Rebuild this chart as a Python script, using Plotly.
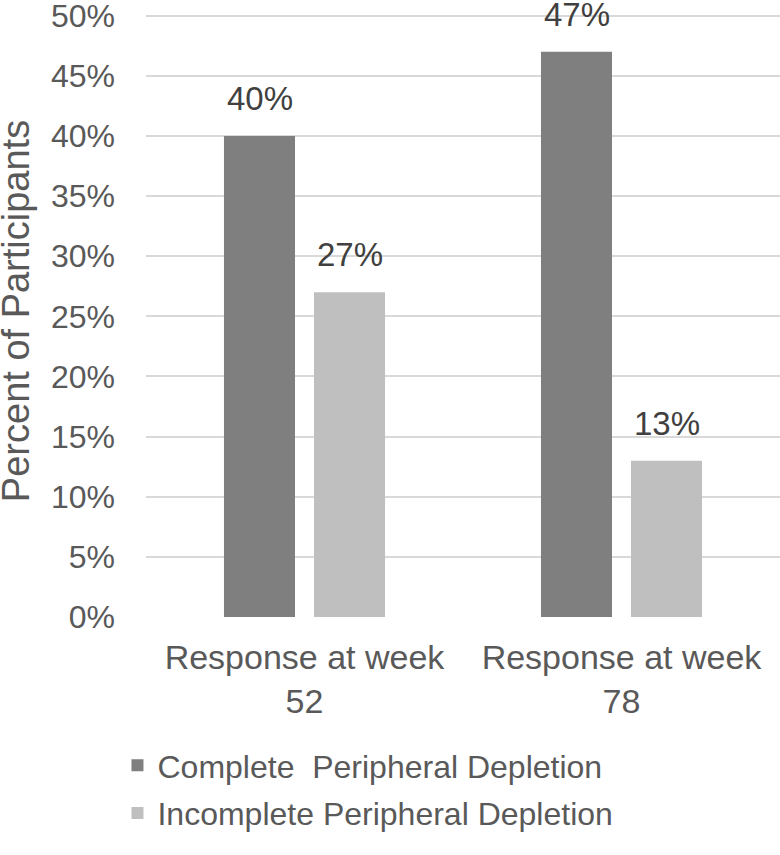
import plotly.graph_objects as go

categories = ["Response at week<br>52", "Response at week<br>78"]
series_names = ["Complete\u00a0 Peripheral Depletion", "Incomplete Peripheral Depletion"]
complete_vals = [40, 47]
incomplete_vals = [27, 13]
tick_vals = [0, 5, 10, 15, 20, 25, 30, 35, 40, 45, 50]
tick_text = [f"{v}%" for v in tick_vals]
y_title = "Percent of Participants"

colors = ["#7f7f7f", "#bfbfbf"]
FONT = "Liberation Sans, Arial, sans-serif"

fig = go.Figure()
for i, (name, vals) in enumerate(zip(series_names, [complete_vals, incomplete_vals])):
    fig.add_trace(go.Bar(
        x=categories, y=vals, name=name, marker_color=colors[i],
        marker_line_width=0, legendgroup=f"g{i}",
    ))

annotations = []
for i, vals in enumerate([complete_vals, incomplete_vals]):
    shift = -45 if i == 0 else 45
    for c, v in zip(categories, vals):
        annotations.append(dict(
            x=c, y=v, xref="x", yref="y", text=f"{v}%", showarrow=False,
            xshift=shift, yshift=17, yanchor="bottom",
            font=dict(family=FONT, size=33, color="#404040"),
        ))
# y-axis title as rotated text
annotations.append(dict(
    x=-0.204, y=0.505, xref="paper", yref="paper", text=y_title,
    showarrow=False, textangle=-90, xanchor="center", yanchor="middle",
    font=dict(family=FONT, size=38, color="#595959"),
))

fig.update_layout(
    width=780, height=855,
    margin=dict(l=146, r=0, t=12, b=238),
    paper_bgcolor="white", plot_bgcolor="white",
    barmode="group", bargap=0.432, bargroupgap=0.211,
    font=dict(family=FONT, size=32, color="#595959"),
    showlegend=True,
    legend=dict(
        orientation="v", x=-0.045, y=-0.2, xanchor="left", yanchor="top",
        font=dict(family=FONT, size=32, color="#595959"),
        traceorder="grouped", tracegroupgap=3,
    ),
    annotations=annotations,
)
fig.update_yaxes(
    range=[0, 50.3], tickvals=tick_vals, ticktext=tick_text,
    showgrid=True, gridcolor="#d9d9d9", gridwidth=2,
    zeroline=False, showline=False, ticks="",
    ticklabelstandoff=30, ticklabeloverflow="allow",
    tickfont=dict(family=FONT, size=32, color="#595959"),
    automargin=False,
)
fig.update_xaxes(
    showgrid=False, showline=False, ticks="", zeroline=False,
    tickfont=dict(family=FONT, size=34, color="#595959"),
    ticklabelstandoff=17,
    automargin=False,
)

fig.write_html("out.html", config={"displayModeBar": False},
               post_script="document.body.style.margin='0';")
